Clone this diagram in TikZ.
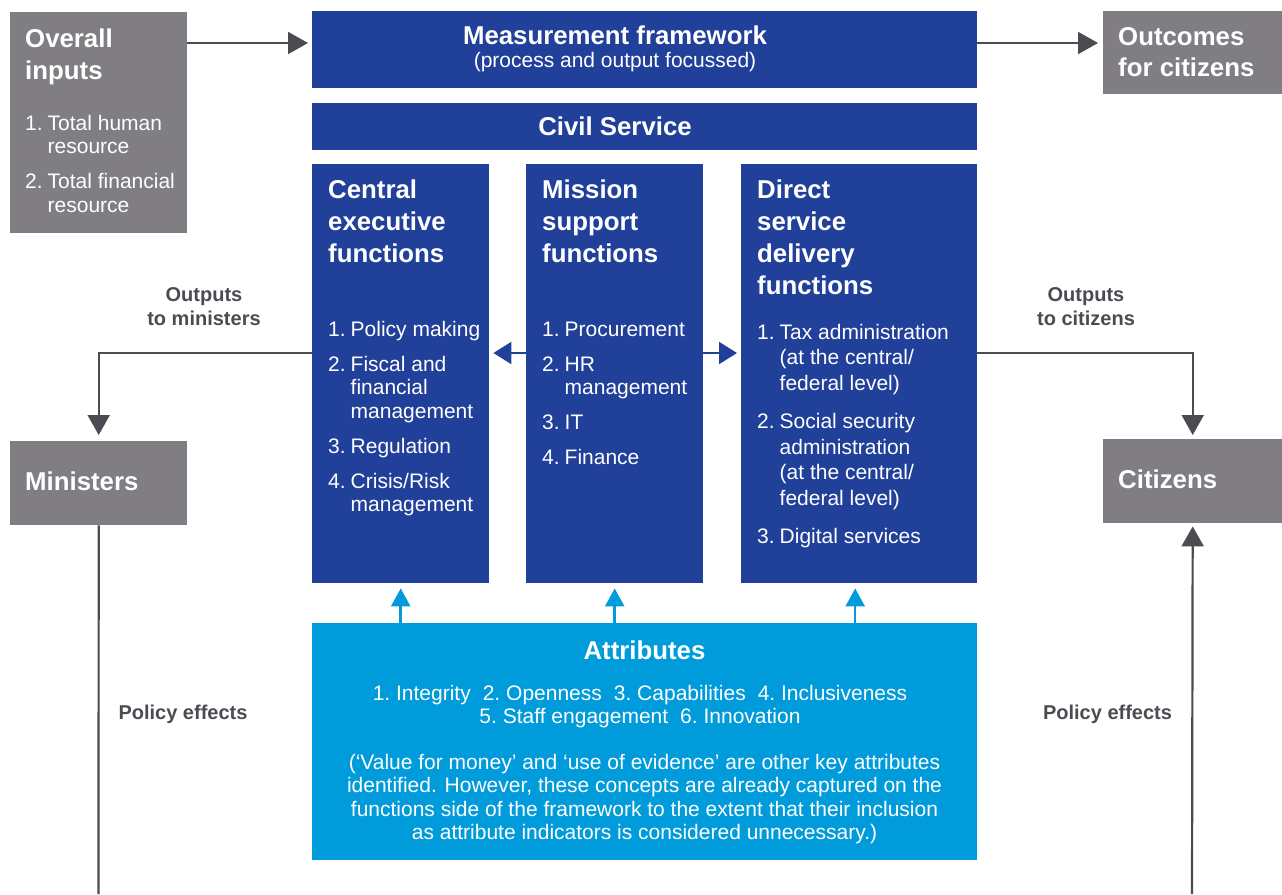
\documentclass[tikz,border=0pt]{standalone}
\usepackage{fontspec}
\setmainfont{Liberation Sans}
\usetikzlibrary{arrows.meta}
\definecolor{dblue}{HTML}{21409A}
\definecolor{lblue}{HTML}{009BDB}
\definecolor{boxgray}{HTML}{807E82}
\definecolor{lngray}{HTML}{4B4B52}
\newcommand\ttlf{\fontsize{25.8}{32}\selectfont\bfseries}
\newcommand\bdyf{\fontsize{21}{23.5}\selectfont}
\newcommand\lblf{\fontsize{20}{24}\selectfont\bfseries}
\newcommand\blk[2]{\vtop{\hsize=#1\relax\parindent=0pt\parskip=0pt\raggedright #2}}
\newcommand\cblk[2]{\vtop{\hsize=#1\relax\parindent=0pt\parskip=0pt\centering #2}}
\newcommand\fitm[1]{\hangindent=22.5pt\hangafter=1\noindent\makebox[22.5pt][l]{#1}\ignorespaces}
\newcommand\itm[2][11.5pt]{\par\vskip#1\relax\fitm{#2}}
\tikzset{
  gbox/.style={fill=boxgray, draw=none, inner sep=0pt, anchor=north west},
  bbox/.style={fill=dblue, draw=none, inner sep=0pt, anchor=north west},
  lbox/.style={fill=lblue, draw=none, inner sep=0pt, anchor=north west},
  tx/.style={inner sep=0pt, anchor=base west, text=white},
  ctx/.style={inner sep=0pt, anchor=base, text=white},
  lb/.style={inner sep=0pt, anchor=base, text=lngray},
  gln/.style={draw=lngray, line width=2.2pt},
  garr/.style={draw=lngray, line width=2.2pt, -{Triangle[length=20pt,width=22pt]}},
  barr/.style={draw=dblue, line width=2.2pt, -{Triangle[length=18pt,width=22pt]}},
  lbarr/.style={draw=lblue, line width=2.5pt, -{Triangle[length=18pt,width=19pt]}},
}
\begin{document}
\begin{tikzpicture}[x=1pt, y=-1pt]
\useasboundingbox (0,0) rectangle (1282,894);
% boxes
\node[gbox, minimum width=177pt, minimum height=221pt] (inp) at (10,12) {};
\node[gbox, minimum width=179pt, minimum height=83pt] (out) at (1103,11) {};
\node[gbox, minimum width=177pt, minimum height=84pt] (min) at (10,441) {};
\node[gbox, minimum width=179pt, minimum height=84pt] (cit) at (1103,439) {};
\node[bbox, minimum width=665pt, minimum height=77pt] (mf) at (312,11) {};
\node[bbox, minimum width=665pt, minimum height=47pt] (cs) at (312,103) {};
\node[bbox, minimum width=177pt, minimum height=419pt] (ce) at (312,164) {};
\node[bbox, minimum width=177pt, minimum height=419pt] (ms) at (526,164) {};
\node[bbox, minimum width=236pt, minimum height=419pt] (ds) at (741,164) {};
\node[lbox, minimum width=665pt, minimum height=237pt] (att) at (312,623) {};
% texts in gray boxes
\node[tx] (inpT) at (25,47) {\blk{170pt}{\ttlf Overall\\inputs}};
\node[tx] (inpL) at (25,130) {\blk{170pt}{\bdyf\fitm{1.}Total human\newline resource\itm{2.}Total financial\newline resource}};
\node[tx] (outT) at (1118,45) {\blk{170pt}{\ttlf Outcomes\\for citizens}};
\node[tx] (minT) at (25,490) {\ttlf Ministers};
\node[tx] (citT) at (1118,488) {\ttlf Citizens};
% blue bars
\node[ctx] (mfT) at (615,44) {\ttlf Measurement framework};
\node[ctx] (mfS) at (615,67) {\bdyf (process and output focussed)};
\node[ctx] (csT) at (615,135) {\ttlf Civil Service};
% columns
\node[tx] (ceT) at (328,198) {\blk{170pt}{\ttlf Central\\executive\\functions}};
\node[tx] (ceL) at (328,336) {\blk{170pt}{\bdyf\fitm{1.}Policy making\itm{2.}Fiscal and\newline financial\newline management\itm{3.}Regulation\itm{4.}Crisis/Risk\newline management}};
\node[tx] (msT) at (542,198) {\blk{170pt}{\ttlf Mission\\support\\functions}};
\node[tx] (msL) at (542,336) {\blk{170pt}{\bdyf\fitm{1.}Procurement\itm{2.}HR\newline management\itm{3.}IT\itm{4.}Finance}};
\node[tx] (dsT) at (757,198) {\blk{220pt}{\ttlf Direct\\service\\delivery\\functions}};
\node[tx] (dsL) at (757,339) {\blk{220pt}{\fontsize{21}{25.5}\selectfont\fitm{1.}Tax administration\newline (at the central/\newline federal level)\itm[13pt]{2.}Social security\newline administration\newline (at the central/\newline federal level)\itm[13pt]{3.}Digital services}};
% attributes
\node[ctx] (attT) at (644.5,659) {\ttlf Attributes};
\node[ctx] (attL) at (640,700) {\cblk{640pt}{\bdyf 1.~Integrity\hspace{12pt}2.~Openness\hspace{12pt}3.~Capabilities\hspace{12pt}4.~Inclusiveness\\5.~Staff engagement\hspace{12pt}6.~Innovation}};
\node[ctx] (attP) at (644.5,769) {\cblk{660pt}{\bdyf (‘Value for money’ and ‘use of evidence’ are other key attributes\\identified. However, these concepts are already captured on the\\functions side of the framework to the extent that their inclusion\\as attribute indicators is considered unnecessary.)}};
% labels
\node[lb] (lOm) at (204,301) {\cblk{200pt}{\lblf Outputs\\to ministers}};
\node[lb] (lOc) at (1086,301) {\cblk{200pt}{\lblf Outputs\\to citizens}};
\node[lb] (lPl) at (183,719) {\lblf Policy effects};
\node[lb] (lPr) at (1107.5,719) {\lblf Policy effects};
% connectors
\draw[garr, shorten >=4pt] ([yshift=-31pt]inp.north east) -- ([yshift=-32pt]mf.north west);
\draw[garr, shorten >=5pt] ([yshift=-32pt]mf.north east) -- ([yshift=-32pt]out.north west);
\draw[garr, shorten >=6pt] ([yshift=-189pt]ce.north west) -| (min.north);
\draw[garr, shorten >=4pt] ([yshift=-189pt]ds.north east) -| (cit.north);
\draw[barr, shorten >=4pt] ([yshift=-189pt]ms.north west) -- ([yshift=-189pt]ce.north east);
\draw[barr, shorten >=4pt] ([yshift=-189pt]ms.north east) -- ([yshift=-189pt]ds.north west);
\draw[lbarr, shorten >=5pt] (att.north -| ce.south) -- (ce.south);
\draw[lbarr, shorten >=5pt] (att.north -| ms.south) -- (ms.south);
\draw[lbarr, shorten >=5pt] ([xshift=-4pt]att.north -| ds.south) -- ([xshift=-4pt]ds.south);
\coordinate (lbot) at (98.5,894);
\coordinate (rbot) at (1192,894);
\draw[gln] (min.south) -- (lbot);
\draw[garr, shorten >=3pt] (rbot) -- (cit.south);
\end{tikzpicture}
\end{document}
